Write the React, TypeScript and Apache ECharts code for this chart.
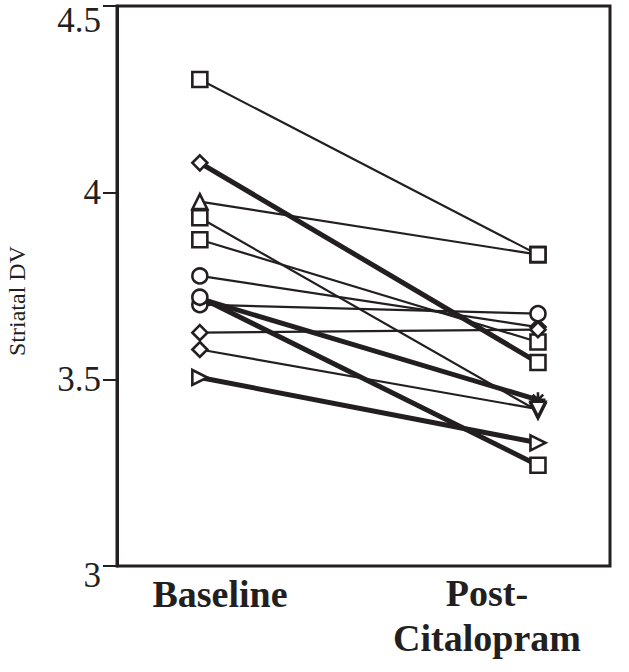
import React, { useEffect, useRef } from "react";
import * as echarts from "echarts";

const timepoints = ["Baseline", "Post-\nCitalopram"];
const baselineValues = [4.303, 4.08, 3.976, 3.933, 3.874, 3.777, 3.7, 3.716, 3.625, 3.72, 3.58, 3.505];
const postValues = [3.834, 3.545, 3.834, 3.415, 3.6, 3.64, 3.676, 3.445, 3.633, 3.27, 3.42, 3.33];
const RIGHT_TRI = "path://M0,0L10,5L0,10Z";
const DOWN_TRI = "path://M0,0L10,0L5,10Z";
const ASTER = "path://M0,5L10,5M5,0L5,10M1.5,1.5L8.5,8.5M8.5,1.5L1.5,8.5";
const baselineSymbols = ["rect", "diamond", "triangle", "rect", "rect", "circle", "circle", ASTER, "diamond", "circle", "diamond", RIGHT_TRI];
const postSymbols = ["rect", "rect", "rect", DOWN_TRI, "rect", "diamond", "circle", ASTER, "diamond", "rect", DOWN_TRI, RIGHT_TRI];
const thick = [false, true, false, false, false, false, false, true, false, true, false, true];
const yTicks = [3, 3.5, 4, 4.5];

export default function App() {
  const ref = useRef<HTMLDivElement>(null);
  useEffect(() => {
    const chart = echarts.init(ref.current!, null, { renderer: "svg" });
    const ink = "#231f20";
    const series = baselineValues.map((b, i) => ({
      type: "line",
      data: [
        { value: [1, b], symbol: baselineSymbols[i] },
        { value: [2, postValues[i]], symbol: postSymbols[i] },
      ],
      symbolSize: 15,
      lineStyle: { color: ink, width: thick[i] ? 5 : 2.2 },
      itemStyle: { color: "#fff", borderColor: ink, borderWidth: 2.6 },
      z: 2,
    }));
    chart.setOption({
      animation: false,
      grid: {
        left: 117, right: 19, top: 6, bottom: 106,
        outerBoundsMode: "none",
        containLabel: false,
        show: true, borderColor: ink, borderWidth: 3, backgroundColor: "transparent",
      },
      xAxis: {
        type: "value",
        min: 0.755,
        max: 2.213,
        show: false,
      },
      yAxis: {
        type: "value",
        min: yTicks[0],
        max: yTicks[yTicks.length - 1],
        interval: 0.5,
        axisLine: { show: true, lineStyle: { color: ink, width: 3 } },
        axisTick: { show: true, length: 14, lineStyle: { color: ink, width: 2 } },
        splitLine: { show: false },
        axisLabel: {
          color: ink, fontFamily: "Liberation Serif", fontSize: 35, margin: 16,
          formatter: (v: number) => (v === 4.5 ? "{top|" + v + "}" : v === 3 ? "{bot|" + v + "}" : String(v)),
          rich: {
            top: { fontFamily: "Liberation Serif", fontSize: 35, color: ink, padding: [28, 0, 0, 0] },
            bot: { fontFamily: "Liberation Serif", fontSize: 35, color: ink, padding: [18, 0, 0, 0] },
          },
        },
        name: "Striatal DV",
        nameLocation: "middle",
        nameGap: 88,
        nameTextStyle: { color: ink, fontFamily: "Liberation Serif", fontSize: 24, padding: [0, 30, 0, 0] },
      },
      graphic: [
        {
          type: "text",
          x: 220,
          y: 575,
          style: { text: timepoints[0], font: "bold 38px 'Liberation Serif'", fill: ink, textAlign: "center", textVerticalAlign: "top" },
        },
        {
          type: "text",
          x: 487,
          y: 570,
          style: { text: timepoints[1], font: "bold 38px 'Liberation Serif'", fill: ink, textAlign: "center", textVerticalAlign: "top", lineHeight: 45 },
        },
      ],
      series,
    });
    return () => chart.dispose();
  }, []);
  return <div ref={ref} style={{ width: 629, height: 672, position: "absolute", left: 0, top: 0 }} />;
}
